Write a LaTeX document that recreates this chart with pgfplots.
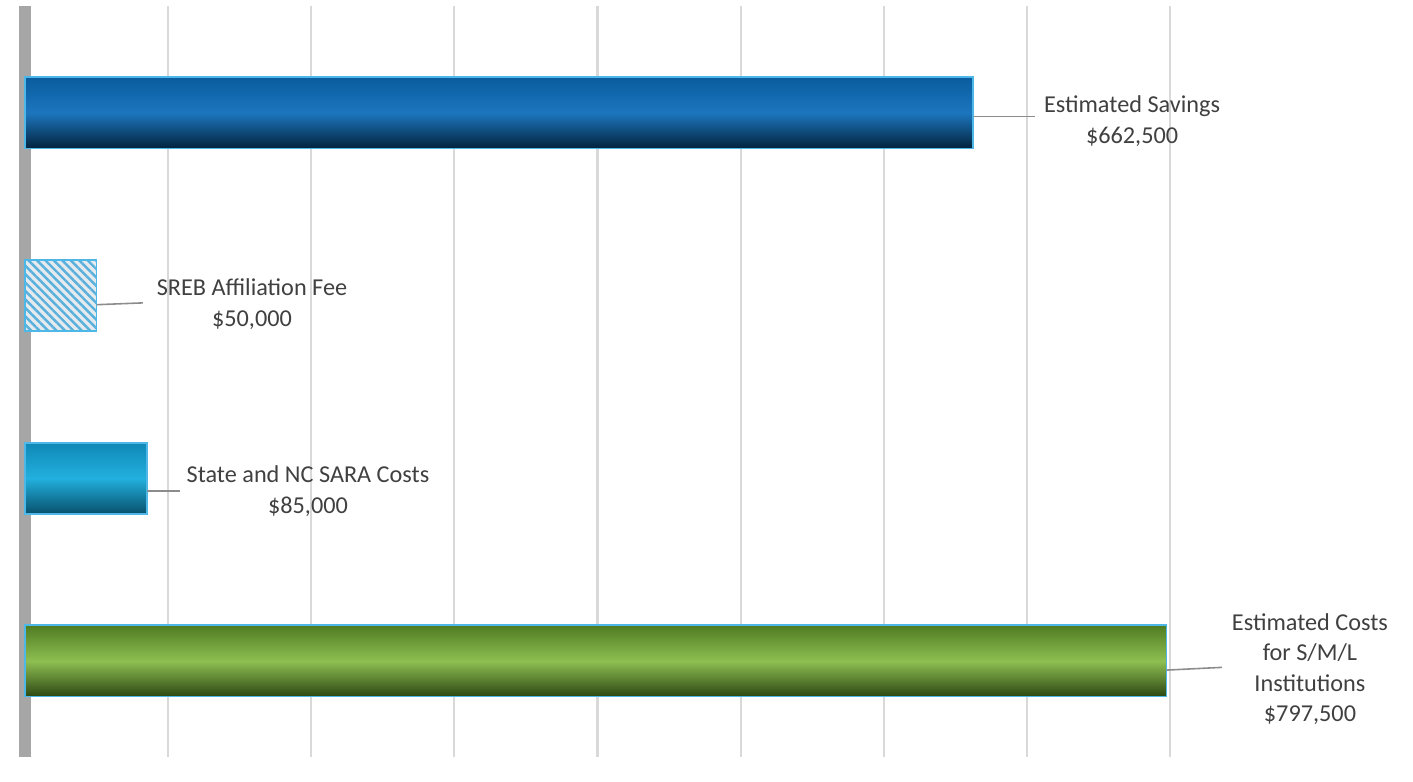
\documentclass[border=0pt]{standalone}
\usepackage{pgfplots}
\pgfplotsset{compat=1.18}
\usepackage{fontspec}
\setmainfont{Carlito}
\usetikzlibrary{patterns.meta}

\definecolor{txt}{HTML}{404040}
\definecolor{gridgray}{HTML}{D9D9D9}
\definecolor{wallgray}{HTML}{A6A6A6}
\definecolor{edge}{HTML}{4DB8E8}
\definecolor{leadgray}{HTML}{8C8C8C}
% savings (dark blue)
\definecolor{savTop}{HTML}{0A5C9E}
\definecolor{savMid}{HTML}{1C76BE}
\definecolor{savBot}{HTML}{03223C}
% state/SARA (teal)
\definecolor{saraTop}{HTML}{0F88B6}
\definecolor{saraMid}{HTML}{22B0DE}
\definecolor{saraBot}{HTML}{08506C}
% costs (green)
\definecolor{grnTop}{HTML}{4F7C22}
\definecolor{grnMid}{HTML}{8EBF52}
\definecolor{grnBot}{HTML}{2C4712}
% SREB hatch
\definecolor{hatch}{HTML}{5AB0DC}
\definecolor{hatchbg}{HTML}{E4EAEE}

\begin{document}
\begin{tikzpicture}[
  lbl/.style={align=center, text=txt, font=\fontsize{6.9}{8.7}\selectfont},
  leader/.style={draw=leadgray, line width=0.45pt},
]
\begin{axis}[
  xbar, bar width=0.39, bar shift=0pt,
  width=14.13cm, height=7.51cm, scale only axis,
  xmin=-17467, xmax=969800, ymin=0.4745, ymax=4.585,
  xtick={100000,200000,300000,400000,500000,600000,700000,800000},
  xticklabels={}, ytick=\empty, scaled x ticks=false,
  xmajorgrids,
  major grid style={color=gridgray, line width=0.6pt},
  extra x ticks={0}, extra x tick labels={},
  extra x tick style={grid=major, major grid style={color=wallgray, line width=1.2mm}},
  axis line style={draw=none}, major tick length=0pt,
  clip=false,
]

% Estimated Savings
\addplot[draw=edge, line width=0.5pt, top color=savTop, bottom color=savBot, middle color=savMid]
  coordinates {(662500,4)};
% SREB Affiliation Fee
\addplot[draw=edge, line width=0.5pt, fill=hatchbg,
  postaction={pattern={Lines[angle=-45, distance=1.7pt, line width=0.7pt]}, pattern color=hatch}]
  coordinates {(50000,3)};
% State and NC SARA Costs
\addplot[draw=edge, line width=0.5pt, top color=saraTop, bottom color=saraBot, middle color=saraMid]
  coordinates {(85000,2)};
% Estimated Costs for S/M/L Institutions
\addplot[draw=edge, line width=0.5pt, top color=grnTop, bottom color=grnBot, middle color=grnMid]
  coordinates {(797500,1)};

% leader lines and data labels
\draw[leader] (axis cs:662500,3.98) -- (axis cs:705700,3.98);
\node[lbl] at (axis cs:773500,3.956) {Estimated Savings\\\$662,500};

\draw[leader] (axis cs:50000,2.95) -- (axis cs:82400,2.96);
\node[lbl] at (axis cs:158600,2.954) {SREB Affiliation Fee\\\$50,000};

\draw[leader] (axis cs:85000,1.93) -- (axis cs:108300,1.93);
\node[lbl] at (axis cs:197700,1.930) {State and NC SARA Costs\\\$85,000};

\draw[leader] (axis cs:797500,0.95) -- (axis cs:836300,0.965);
\node[lbl] at (axis cs:897800,0.956) {Estimated Costs\\for S/M/L\\Institutions\\\$797,500};

\end{axis}
\end{tikzpicture}
\end{document}
